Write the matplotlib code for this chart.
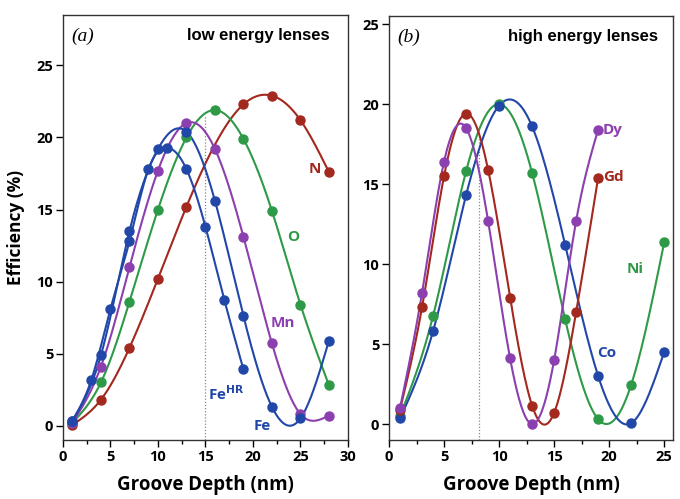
import numpy as np
import matplotlib.pyplot as plt

# panel (a): low energy lenses
a_x3 = [1, 4, 7, 10, 13, 16, 19, 22, 25, 28]
n_x = [1, 4, 7, 10, 13, 19, 22, 25, 28]
n_y = [0.05, 1.8, 5.4, 10.2, 15.2, 22.3, 22.9, 21.2, 17.6]
o_y = [0.2, 3.0, 8.6, 15.0, 20.0, 21.9, 19.9, 14.9, 8.4, 2.8]
mn_y = [0.2, 4.1, 11.0, 17.7, 21.0, 19.2, 13.1, 5.7, 0.8, 0.7]
fe_y = [0.35, 4.9, 13.5, 19.2, 20.4, 15.6, 7.6, 1.3, 0.5, 5.9]
fehr_x = [1, 3, 5, 7, 9, 11, 13, 15, 17, 19]
fehr_y = [0.35, 3.2, 8.1, 12.8, 17.8, 19.3, 17.8, 13.8, 8.7, 3.9]

# panel (b): high energy lenses
b_x2 = [1, 3, 5, 7, 9, 11, 13, 15, 17, 19]
dy_y = [1.0, 8.2, 16.4, 18.5, 12.7, 4.1, 0.0, 4.0, 12.7, 18.4]
gd_y = [0.9, 7.3, 15.5, 19.4, 15.9, 7.9, 1.15, 0.7, 7.0, 15.4]
b_x3 = [1, 4, 7, 10, 13, 16, 19, 22, 25]
ni_y = [0.5, 6.75, 15.8, 20.0, 15.7, 6.55, 0.3, 2.45, 11.35]
co_y = [0.35, 5.8, 14.3, 19.9, 18.6, 11.2, 3.0, 0.05, 4.5]

RED = '#a3281e'
GREEN = '#2e9a47'
PURPLE = '#8c3fae'
BLUE = '#2147a8'


def spline(x, y, n=300):
    # natural cubic spline through the measured points (for the smooth line)
    x = np.asarray(x, float)
    y = np.asarray(y, float)
    k = len(x)
    h = np.diff(x)
    A = np.zeros((k, k))
    r = np.zeros(k)
    A[0, 0] = A[-1, -1] = 1
    for i in range(1, k - 1):
        A[i, i - 1] = h[i - 1]
        A[i, i] = 2 * (h[i - 1] + h[i])
        A[i, i + 1] = h[i]
        r[i] = 6 * ((y[i + 1] - y[i]) / h[i] - (y[i] - y[i - 1]) / h[i - 1])
    m = np.linalg.solve(A, r)
    xs = np.linspace(x[0], x[-1], n)
    j = np.clip(np.searchsorted(x, xs) - 1, 0, k - 2)
    t0 = x[j + 1] - xs
    t1 = xs - x[j]
    hj = h[j]
    ys = (m[j] * t0 ** 3 + m[j + 1] * t1 ** 3) / (6 * hj) \
        + (y[j] / hj - m[j] * hj / 6) * t0 + (y[j + 1] / hj - m[j + 1] * hj / 6) * t1
    return xs, ys


def curve(ax, x, y, c):
    xs, ys = spline(x, y)
    ax.plot(xs, ys, color=c, lw=1.5, zorder=2)
    ax.plot(x, y, 'o', color=c, ms=6.5, zorder=3)


fig = plt.figure(figsize=(6.8, 4.99), dpi=100)
ax1 = fig.add_axes([0.0926, 0.1182, 0.4191, 0.8517])
ax2 = fig.add_axes([0.5721, 0.1182, 0.4176, 0.8497])

curve(ax1, n_x, n_y, RED)
curve(ax1, a_x3, o_y, GREEN)
curve(ax1, a_x3, mn_y, PURPLE)
curve(ax1, fehr_x, fehr_y, BLUE)
curve(ax1, a_x3, fe_y, BLUE)
ax1.plot([15, 15], [-1, 21.5], color='#888888', lw=0.9, ls=(0, (1, 1.5)), zorder=1)

curve(ax2, b_x3, ni_y, GREEN)
curve(ax2, b_x3, co_y, BLUE)
curve(ax2, b_x2, gd_y, RED)
curve(ax2, b_x2, dy_y, PURPLE)
ax2.plot([8.2, 8.2], [-1, 18.0], color='#888888', lw=0.9, ls=(0, (1, 1.5)), zorder=1)

ax1.set_xlim(0, 30)
ax1.set_ylim(-1, 28.5)
ax2.set_xlim(0, 25.8)
ax2.set_ylim(-1, 25.5)

for ax in (ax1, ax2):
    ax.set_xticks(np.arange(0, 31, 5))
    ax.set_xticks(np.arange(0, 30.1, 2.5), minor=True)
    ax.set_yticks(np.arange(0, 26, 5))
    ax.tick_params(axis='both', which='major', direction='out', length=5, width=1,
                   top=False, right=False, pad=2)
    ax.tick_params(axis='x', which='minor', direction='out', length=3, width=1)
    for lab in ax.get_xticklabels() + ax.get_yticklabels():
        lab.set_fontfamily('Open Sans')
        lab.set_fontweight('bold')
        lab.set_fontsize(10.5)
    for s in ax.spines.values():
        s.set_linewidth(1.0)
        s.set_color('#333333')
    ax.set_xlabel('Groove Depth (nm)', fontfamily='Open Sans', fontweight='bold',
                  fontsize=13.5, labelpad=8)

ax2.set_xlim(0, 25.8)
ax1.set_ylabel('Efficiency (%)', fontfamily='Open Sans', fontweight='bold',
               fontsize=12.5, labelpad=8)

ax1.text(0.03, 0.97, '(a)', transform=ax1.transAxes, fontfamily='Liberation Serif',
         style='italic', fontsize=14, va='top')
ax1.text(0.937, 0.97, 'low energy lenses', transform=ax1.transAxes,
         fontfamily='Liberation Sans', fontweight='bold', fontsize=12, va='top', ha='right')
ax2.text(0.03, 0.97, '(b)', transform=ax2.transAxes, fontfamily='Liberation Serif',
         style='italic', fontsize=14, va='top')
ax2.text(0.947, 0.97, 'high energy lenses', transform=ax2.transAxes,
         fontfamily='Liberation Sans', fontweight='bold', fontsize=12, va='top', ha='right')

lab = dict(family='Open Sans', weight='bold', fontsize=11, ha='center', va='center')
ax1.text(26.5, 17.8, 'N', color=RED, **lab)
ax1.text(24.2, 13.1, 'O', color=GREEN, **lab)
ax1.text(23.1, 7.15, 'Mn', color=PURPLE, **lab)
ax1.text(15.3, 2.2, r'Fe$^{\mathbf{HR}}$', color=BLUE, family='Open Sans',
         weight='bold', fontsize=11, ha='left', va='center')
ax1.text(21.0, -0.05, 'Fe', color=BLUE, **lab)

ax2.text(20.3, 18.4, 'Dy', color=PURPLE, **lab)
ax2.text(20.4, 15.45, 'Gd', color=RED, **lab)
ax2.text(22.4, 9.7, 'Ni', color=GREEN, **lab)
ax2.text(19.8, 4.45, 'Co', color=BLUE, **lab)

fig.savefig('out.png', dpi=100)
